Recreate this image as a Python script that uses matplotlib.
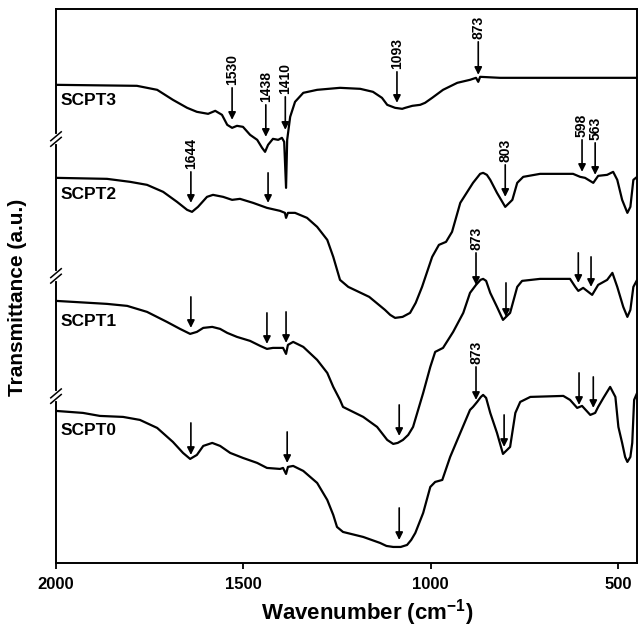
import matplotlib
matplotlib.use('Agg')
import matplotlib.pyplot as plt

plt.rcParams['font.family'] = ['Liberation Sans', 'DejaVu Sans']

# %% spectra (wavenumber cm-1, transmittance a.u., offsets included)
wn3 = [2000, 1784, 1730, 1688, 1650, 1624, 1594, 1575, 1557, 1543, 1530, 1517,
       1501, 1482, 1463, 1450, 1442, 1434, 1421, 1407, 1397, 1391, 1386, 1383,
       1375, 1362, 1340, 1303, 1242, 1188, 1154, 1130, 1116, 1095, 1076, 1068,
       1049, 1028, 1015, 996, 967, 929, 895, 879, 873, 868, 815, 708, 449]
t3 = [478, 477, 473, 463, 455, 451, 449, 452, 448, 438, 435, 437,
      436, 428, 423, 415, 411, 418, 424, 423, 425, 421, 375, 423,
      446, 461, 470, 473, 475, 474, 471, 465, 458, 455, 454, 455,
      457, 458, 460, 465, 473, 480, 483, 485, 481, 486, 485, 485, 485]

wn2 = [2000, 1864, 1802, 1757, 1714, 1677, 1650, 1637, 1621, 1597, 1581, 1554,
       1530, 1509, 1474, 1437, 1402, 1389, 1386, 1381, 1362, 1330, 1303, 1276,
       1260, 1242, 1220, 1164, 1122, 1108, 1095, 1075, 1055, 1040, 1023, 996,
       978, 959, 943, 921, 887, 868, 860, 850, 841, 823, 801, 782, 769, 753,
       708, 620, 601, 588, 566, 553, 529, 513, 502, 489, 475, 467, 459, 449]
t2 = [385, 384, 381, 378, 371, 361, 353, 351, 356, 366, 368, 366,
      363, 364, 360, 355, 352, 350, 345, 350, 350, 345, 336, 323,
      306, 283, 276, 266, 253, 248, 245, 246, 250, 260, 276, 306,
      318, 321, 331, 360, 380, 389, 390, 388, 383, 370, 356, 363, 380, 386,
      389, 389, 386, 385, 380, 387, 388, 391, 383, 363, 350, 356, 383, 386]

wn1 = [2000, 1909, 1864, 1810, 1757, 1704, 1669, 1642, 1624, 1607, 1583, 1562,
       1543, 1517, 1482, 1455, 1437, 1421, 1394, 1386, 1381, 1367, 1340, 1303,
       1276, 1260, 1242, 1234, 1180, 1143, 1116, 1100, 1088, 1074, 1060, 1047,
       1020, 1001, 988, 967, 940, 913, 895, 879, 867, 860, 852, 841, 823, 807,
       788, 769, 756, 708, 628, 614, 606, 593, 569, 553, 529, 515, 502, 486,
       475, 467, 459, 449]
t1 = [262, 260, 259, 257, 251, 241, 234, 229, 231, 235, 236, 234,
      230, 226, 222, 217, 214, 215, 215, 209, 218, 221, 216, 203,
      190, 176, 163, 156, 146, 136, 123, 119, 120, 123, 128, 136,
      170, 196, 211, 215, 231, 250, 270, 278, 283, 284, 282, 270, 256, 243,
      250, 276, 282, 284, 284, 276, 272, 275, 268, 278, 283, 290, 276, 256,
      246, 253, 276, 283]

wn0 = [2000, 1928, 1883, 1821, 1776, 1730, 1688, 1661, 1642, 1624, 1607, 1583,
       1562, 1535, 1501, 1463, 1437, 1402, 1394, 1386, 1381, 1367, 1340, 1303,
       1276, 1260, 1250, 1234, 1180, 1135, 1118, 1100, 1080, 1063, 1052, 1041,
       1020, 1001, 988, 969, 948, 921, 895, 887, 876, 866, 860, 852, 841, 823,
       807, 788, 774, 761, 734, 646, 628, 609, 596, 574, 561, 553, 539, 521,
       507, 499, 489, 481, 475, 467, 462, 457, 449]
t0 = [152, 150, 147, 146, 143, 135, 121, 110, 104, 108, 117, 120,
      117, 110, 105, 100, 95, 94, 95, 89, 96, 97, 92, 80,
      63, 48, 36, 31, 26, 20, 17, 16, 16, 18, 23, 30,
      50, 76, 81, 83, 106, 130, 153, 156, 161, 166, 168, 165, 150, 130,
      109, 116, 150, 161, 166, 167, 163, 155, 157, 148, 150, 156, 165, 176,
      166, 136, 120, 106, 101, 106, 120, 163, 170]

names = ['SCPT3', 'SCPT2', 'SCPT1', 'SCPT0']
name_y = [462, 368, 241, 132]

# %% band markers: position, arrow start, arrow tip, label
arr_x = [1530, 1440, 1388, 1090, 873,
         1640, 1434, 801, 596, 561,
         1640, 1437, 1386, 1084, 879, 799, 606, 572,
         1640, 1383, 1084, 879, 804, 604, 566]
arr_top = [475, 458, 466, 491, 521,
           391, 390, 398, 423, 420,
           266, 250, 251, 158, 310, 280, 310, 306,
           140, 131, 55, 196, 148, 190, 186]
arr_tip = [443, 426, 433, 460, 488,
           360, 360, 366, 391, 388,
           235, 219, 220, 127, 278, 246, 280, 276,
           108, 100, 23, 163, 116, 158, 155]
arr_lab = ['1530', '1438', '1410', '1093', '873',
           '1644', '', '803', '598', '563',
           '', '', '', '', '873', '', '', '',
           '', '', '', '873', '', '', '']

fig = plt.figure(figsize=(6.4, 6.29), dpi=100)
ax = fig.add_axes([0.0875, 0.105, 0.908, 0.881])

for wn, t in zip([wn3, wn2, wn1, wn0], [t3, t2, t1, t0]):
    ax.plot(wn, t, color='black', lw=1.6)

for n, y in zip(names, name_y):
    ax.text(1988, y, n, fontsize=12.5, fontweight='bold', ha='left',
            va='center')

for x, a, b, s in zip(arr_x, arr_top, arr_tip, arr_lab):
    ax.annotate('', xy=(x, b), xytext=(x, a),
                arrowprops=dict(arrowstyle='-|>', color='black', lw=1.2,
                                mutation_scale=11, shrinkA=0, shrinkB=0))
    if s:
        ax.annotate(s, xy=(x, a), xytext=(0, 2), textcoords='offset points',
                    rotation=90, ha='center', va='bottom', fontsize=10,
                    fontweight='bold')

ax.set_xlim(2000, 449)
ax.set_ylim(0, 554)
ax.set_xticks([2000, 1500, 1000, 500])
ax.set_yticks([])
ax.tick_params(axis='x', direction='out', length=4, width=1.3, pad=6,
               labelsize=12)
for lab in ax.get_xticklabels():
    lab.set_fontweight('bold')
for sp in ax.spines.values():
    sp.set_linewidth(1.4)

ax.set_xlabel(r'Wavenumber (cm$^{\mathregular{-1}}$)', fontsize=16,
              fontweight='bold')
ax.xaxis.set_label_coords(0.535, -0.062)
ax.set_ylabel('Transmittance (a.u.)', fontsize=15, fontweight='bold')
ax.yaxis.set_label_coords(-0.05, 0.48)

# axis breaks on the left spine
for yb in [0.765, 0.518, 0.301]:
    ax.plot([0, 0], [yb - 0.006, yb + 0.006], color='white', lw=3,
            transform=ax.transAxes, clip_on=False, zorder=5)
    for d in [-0.005, 0.005]:
        ax.plot([-0.009, 0.009], [yb + d - 0.008, yb + d + 0.008],
                color='black', lw=1.1, transform=ax.transAxes,
                clip_on=False, zorder=6)

fig.savefig('out.png', dpi=100)
